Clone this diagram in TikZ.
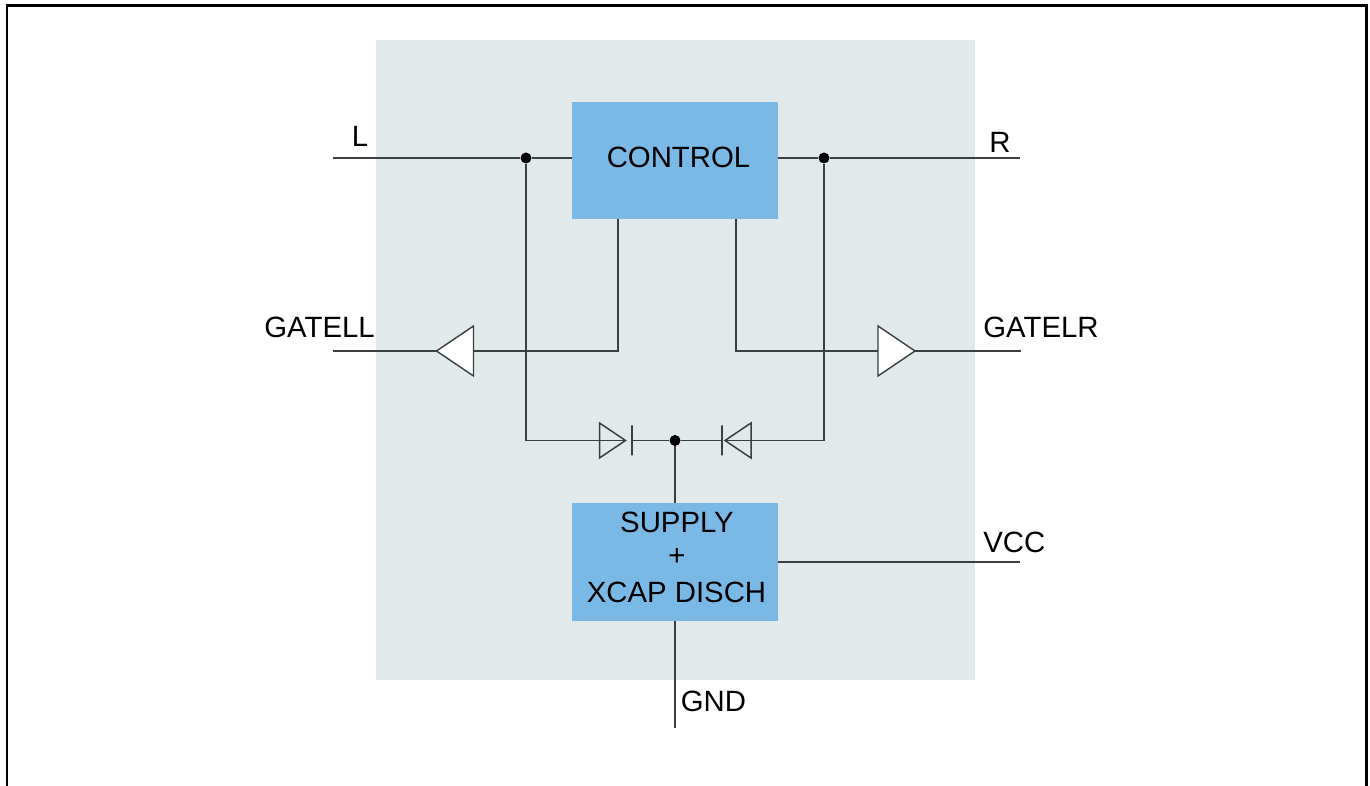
\documentclass[tikz,border=0pt]{standalone}
\usepackage{fontspec}
\setmainfont{Liberation Sans}
\usetikzlibrary{shapes.geometric}
\definecolor{chipbg}{HTML}{E1E9EB}
\definecolor{blockblue}{HTML}{7AB8E6}
\definecolor{wirecol}{HTML}{3A3F42}
\tikzset{
    wire/.style={wirecol,line width=0.9pt},
    block/.style={fill=blockblue,minimum width=4.12cm,minimum height=2.35cm,inner sep=0pt,outer sep=0pt},
    pinlabel/.style={inner sep=0pt,font=\fontsize{16.7}{20}\selectfont},
    dot/.style={circle,fill=black,inner sep=0pt,minimum size=0.22cm},
    buffer/.style={draw=wirecol,line width=0.8pt,fill=white,isosceles triangle,isosceles triangle stretches,inner sep=0pt,outer sep=0pt,minimum height=0.74cm,minimum width=1cm,anchor=lower side},
    diode/.style={draw=wirecol,line width=0.85pt,isosceles triangle,isosceles triangle stretches,inner sep=0pt,outer sep=0pt,minimum height=0.52cm,minimum width=0.7cm,anchor=lower side},
    diodebar/.style={draw=wirecol,line width=0.85pt,inner sep=0pt,outer sep=0pt,minimum width=0pt,minimum height=0.6cm}
}
\begin{document}
\begin{tikzpicture}[x=0.02cm,y=-0.02cm]
    \useasboundingbox (0,0) rectangle (1370,786);
    % frame and chip area
    \draw [black,line width=1.7pt] (7,786) -- (7,6) -- (1366,6) -- (1366,786);
    \fill [chipbg] (376,40) rectangle (975,680);

    % blocks
    \node [block] (control) at (675,160.5) {};
    \node [block] (supply) at (675,562) {};
    \node [pinlabel] (controla) at (678.5,157) {CONTROL};
    \node [pinlabel] (supplya) at (677,522.5) {SUPPLY};
    \node [pinlabel] (supplyb) at (677,557.5) {+};
    \node [pinlabel] (supplyc) at (676.5,592.5) {XCAP DISCH};

    % free ends of the pins
    \coordinate (pinL) at (333,158);
    \coordinate (pinR) at (1020,158);
    \coordinate (pinGL) at (333,351);
    \coordinate (pinGR) at (1021,351);
    \coordinate (pinVCC) at (1020,562);
    \coordinate (pinGND) at (675,728);
    \coordinate (ctlL) at (618,219);
    \coordinate (ctlR) at (736,219);
    \coordinate (cornerGL) at (618,351);
    \coordinate (cornerGR) at (736,351);
    \coordinate (cornerDL) at (526,440.5);
    \coordinate (cornerDR) at (824,440.5);

    % junctions
    \node [dot] (dotL) at (526,158) {};
    \node [dot] (dotR) at (824,158) {};
    \node [dot] (dotS) at (675,440.5) {};

    % buffers and diodes
    \node [buffer,shape border rotate=180] (bufL) at (473.5,351) {};
    \node [buffer] (bufR) at (878,351) {};
    \node [diode] (diodeL) at (599.5,440.5) {};
    \node [diodebar] (barL) at (632,440.5) {};
    \node [diode,shape border rotate=180] (diodeR) at (751,440.5) {};
    \node [diodebar] (barR) at (722,440.5) {};

    % wires
    \draw [wire] (pinL) -- (dotL) -- (control.west |- dotL);
    \draw [wire] (control.east |- dotR) -- (dotR) -- (pinR);
    \draw [wire] (dotL) -- (cornerDL) -- (diodeL.apex);
    \draw [wire] (dotR) -- (cornerDR) -- (diodeR.apex);
    \draw [wire] (barL) -- (dotS) -- (barR);
    \draw [wire] (dotS) -- (supply.north);
    \draw [wire] (ctlL) -- (cornerGL) -- (bufL.lower side);
    \draw [wire] (bufL.apex) -- (pinGL);
    \draw [wire] (ctlR) -- (cornerGR) -- (bufR.lower side);
    \draw [wire] (bufR.apex) -- (pinGR);
    \draw [wire] (supply.east |- pinVCC) -- (pinVCC);
    \draw [wire] (supply.south) -- (pinGND);

    % pin names
    \node [pinlabel] (labL) at (360,136.5) {L};
    \node [pinlabel] (labR) at (1000,142.5) {R};
    \node [pinlabel,anchor=west] (labGL) at (264,327.5) {GATELL};
    \node [pinlabel,anchor=west] (labGR) at (983,327.5) {GATELR};
    \node [pinlabel,anchor=west] (labVCC) at (983,542.5) {VCC};
    \node [pinlabel,anchor=west] (labGND) at (680.5,701.5) {GND};
\end{tikzpicture}
\end{document}
